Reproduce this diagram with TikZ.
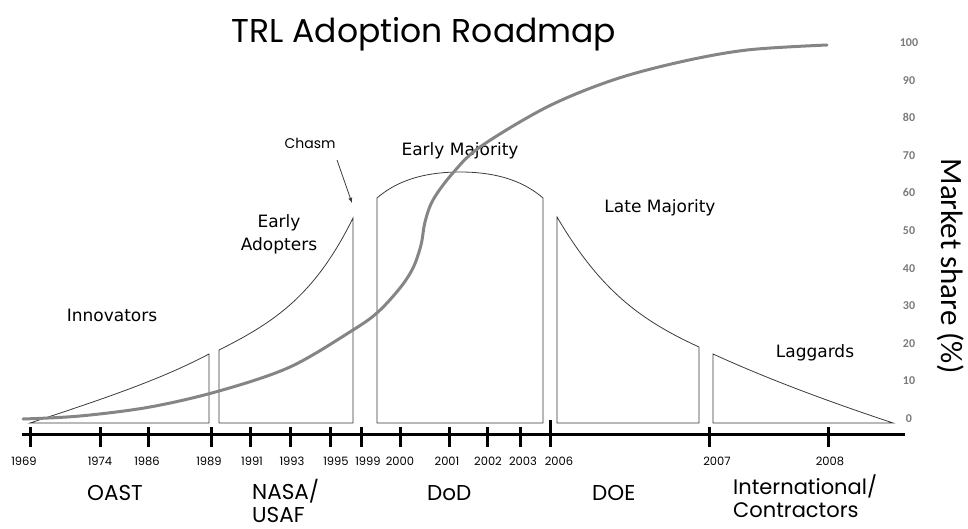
\documentclass[tikz,border=0pt]{standalone}
\usepackage{fontspec}
\setmainfont{Poppins}
\newfontfamily\gothicfont{DejaVu Sans}
\newfontfamily\calfont{Carlito}
\usetikzlibrary{arrows}
\usetikzlibrary{positioning}

\definecolor{curvegray}{HTML}{858585}
\definecolor{linegray}{HTML}{3A3A3A}
\definecolor{pctgray}{HTML}{7A7A7A}

\tikzset{
  segment/.style={draw=linegray, line width=0.8pt},
  yearlbl/.style={anchor=base, inner sep=0pt, font=\fontsize{11.5}{13}\selectfont},
  grouplbl/.style={anchor=base west, inner sep=0pt, align=left, font=\fontsize{21.5}{23}\selectfont},
  phaselbl/.style={anchor=base, inner sep=0pt, align=center, font=\gothicfont\fontsize{17}{23}\selectfont},
  pctlbl/.style={anchor=base, inner sep=0pt, text=pctgray, font=\calfont\bfseries\fontsize{12}{14}\selectfont},
  tick/.style={line width=3pt}
}

\begin{document}
\begin{tikzpicture}[x=1pt, y=-1pt, >=latex]
  \useasboundingbox (0,0) rectangle (968,529);

  \node[anchor=base, inner sep=0pt, font=\fontsize{33}{38}\selectfont] (title) at (424,43) {TRL Adoption Roadmap};

%%%%%%%%%%%% adopter groups
  \draw[segment] (30,423) .. controls (100,400) and (160,380) .. (209,354) -- (209,423) -- cycle;
  \draw[segment] (219,423) -- (219,350) .. controls (275,322) and (315,295) .. (353,218) -- (353,423) -- cycle;
  \draw[segment] (377,423) -- (377,198) .. controls (400,178) and (430,172) .. (460,172)
                 .. controls (490,172) and (520,178) .. (543,198) -- (543,423) -- cycle;
  \draw[segment] (557,423) -- (557,217) .. controls (600,290) and (640,320) .. (699,347) -- (699,423) -- cycle;
  \draw[segment] (713,423) -- (713,354) .. controls (770,380) and (830,402) .. (893,423) -- cycle;

  \node[phaselbl] (innov) at (112,321) {Innovators};
  \node[phaselbl] (early) at (279,251) {Early\\Adopters};
  \node[phaselbl] (emaj) at (460,156) {Early Majority};
  \node[phaselbl] (lmaj) at (660,213) {Late Majority};
  \node[phaselbl] (lagg) at (815,357) {Laggards};

  \node[anchor=base, inner sep=0pt, font=\fontsize{14}{16}\selectfont] (chasm) at (310,149) {Chasm};
  \coordinate (chasmtip) at (352,203);
  \draw[->, linegray, line width=0.8pt] ([shift={(27,11)}]chasm.base) -- (chasmtip);

%%%%%%%%%%%% market share curve
  \draw[curvegray, line width=3pt, line cap=round] plot[smooth, tension=0.55] coordinates {
    (23,419) (80,416) (150,407) (219,391) (290,367) (353,330) (378,312) (400,288)
    (413,268) (421,245) (425,222) (433,200) (452,174) (480,147) (547,107) (613,80)
    (680,62) (747,50) (827,45)};

%%%%%%%%%%%% time axis
  \coordinate (axl) at (22,434);
  \coordinate (axr) at (905,434);
  \draw[line width=3pt] (axl) -- (axr);
  \foreach \x in {30,100,148,211,250,290,330,361,400,449,487,520,709,828}
    \draw[tick] (\x,427) -- (\x,447);
  \draw[tick] (550,420) -- (550,447);

  \foreach \x/\yr in {24/1969, 100/1974, 147/1986, 209/1989, 252/1991, 292/1993, 336/1995,
                      368/1999, 400/2000, 447/2001, 488/2002, 523/2003, 559/2006, 717/2007, 830/2008}
    \node[yearlbl] (y\yr) at (\x,465) {\yr};

  \node[grouplbl] (oast) at (87,500) {OAST};
  \node[grouplbl] (nasa) at (252,522) {NASA/\\USAF};
  \node[grouplbl] (dod) at (427,500) {DoD};
  \node[grouplbl] (doe) at (592,500) {DOE};
  \node[grouplbl, font=\fontsize{21}{23}\selectfont] (intl) at (733,517) {International/\\Contractors};

%%%%%%%%%%%% share scale
  \foreach \v in {0,10,...,100}
    \node[pctlbl] (p\v) at (909,{422-3.75*\v}) {\v};
  \node[rotate=-90, inner sep=0pt, font=\calfont\fontsize{31}{34}\selectfont] (mkt) at (951,266) {Market share (\%)};
\end{tikzpicture}
\end{document}
